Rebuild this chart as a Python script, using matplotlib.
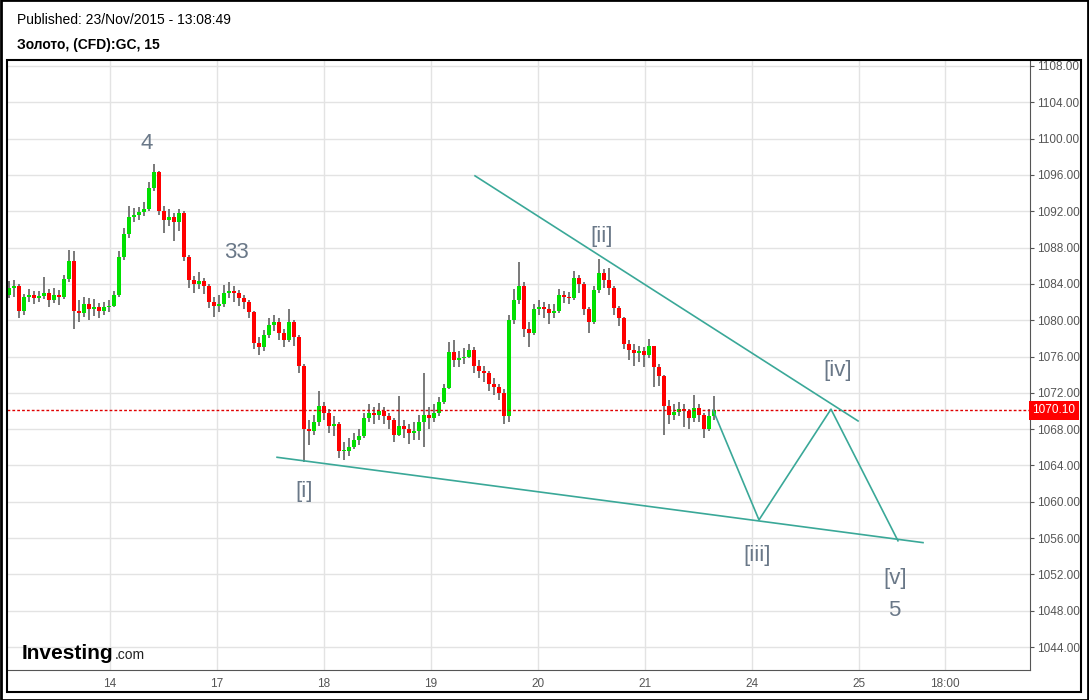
import numpy as np
import matplotlib
matplotlib.use("Agg")
import matplotlib.pyplot as plt
from matplotlib.patches import Rectangle
import matplotlib.transforms as mtransforms

# ---------------- data ----------------
closes = [1083.5, 1083.8, 1081.0, 1082.5, 1082.8, 1082.4, 1082.7, 1083.0, 1082.2, 1082.8,
          1082.6, 1084.5, 1086.5, 1081.0, 1080.8, 1081.8, 1081.2, 1081.5, 1081.0, 1081.4,
          1081.6, 1082.8, 1087.0, 1089.5, 1091.4, 1091.6, 1091.9, 1092.2, 1094.6, 1096.3,
          1092.0, 1091.0, 1091.4, 1090.8, 1091.8, 1087.0, 1084.4, 1084.0, 1084.3, 1083.8,
          1082.0, 1081.6, 1081.8, 1083.0, 1083.2, 1083.0, 1082.4, 1082.0, 1080.9, 1077.5,
          1077.0, 1078.4, 1079.5, 1079.8, 1078.6, 1077.8, 1079.8, 1078.2, 1075.0, 1068.0,
          1067.8, 1068.8, 1070.6, 1069.8, 1068.4, 1068.6, 1065.6, 1065.6, 1066.0, 1066.8,
          1067.2, 1069.2, 1069.8, 1069.6, 1070.0, 1069.4, 1069.0, 1067.4, 1068.4, 1068.0,
          1067.6, 1067.8, 1068.8, 1069.6, 1069.2, 1069.8, 1071.0, 1072.5, 1076.5, 1075.6,
          1075.8, 1076.0, 1076.7, 1075.0, 1074.4, 1074.2, 1073.0, 1072.6, 1072.0, 1069.5,
          1080.0, 1082.2, 1083.8, 1079.0, 1078.6, 1081.2, 1081.4, 1081.2, 1080.8, 1081.0,
          1082.8, 1082.6, 1082.4, 1084.6, 1084.0, 1081.2, 1079.8, 1083.3, 1085.2, 1084.4,
          1083.6, 1081.3, 1080.2, 1077.4, 1076.7, 1076.4, 1076.6, 1076.2, 1077.2, 1074.8,
          1073.8, 1070.6, 1069.6, 1069.9, 1070.2, 1070.0, 1069.2, 1070.3, 1069.6, 1068.0,
          1069.4, 1070.1]
highs = [1084.3, 1084.4, 1084.0, 1082.9, 1083.4, 1083.2, 1083.2, 1084.8, 1083.4, 1083.6,
         1083.3, 1085.0, 1087.7, 1087.6, 1082.2, 1082.6, 1082.4, 1082.3, 1081.9, 1082.0,
         1082.2, 1083.2, 1087.6, 1090.2, 1092.6, 1092.4, 1092.5, 1093.0, 1095.2, 1097.2,
         1096.4, 1092.6, 1092.2, 1091.8, 1092.3, 1092.0, 1087.2, 1084.9, 1085.3, 1084.6,
         1084.0, 1082.6, 1082.8, 1083.9, 1084.2, 1083.8, 1083.3, 1082.8, 1082.2, 1081.0,
         1078.2, 1078.9, 1080.2, 1080.6, 1080.2, 1079.0, 1081.2, 1080.0, 1078.4, 1075.2,
         1069.0, 1069.6, 1072.2, 1071.0, 1070.2, 1069.5, 1068.8, 1066.6, 1067.0, 1067.6,
         1068.0, 1069.8, 1070.8, 1070.4, 1070.9, 1070.4, 1069.8, 1069.2, 1071.6, 1069.0,
         1068.6, 1068.8, 1069.6, 1074.2, 1070.4, 1070.8, 1071.5, 1073.0, 1077.6, 1077.8,
         1076.6, 1076.9, 1077.4, 1077.0, 1075.6, 1075.0, 1074.4, 1073.6, 1073.0, 1072.4,
         1080.6, 1083.4, 1086.4, 1084.2, 1079.8, 1081.8, 1082.2, 1082.0, 1081.8, 1081.8,
         1083.4, 1083.2, 1083.1, 1085.4, 1085.0, 1084.2, 1081.4, 1083.8, 1086.7, 1085.6,
         1085.8, 1083.8, 1081.6, 1080.4, 1077.8, 1077.4, 1077.2, 1077.0, 1077.9, 1077.0,
         1075.2, 1074.0, 1071.2, 1070.8, 1071.0, 1070.8, 1070.2, 1071.8, 1070.8, 1069.8,
         1070.2, 1071.6]
lows = [1082.4, 1082.6, 1080.2, 1080.6, 1082.0, 1081.8, 1082.0, 1082.3, 1081.4, 1081.9,
        1081.7, 1082.3, 1084.2, 1079.0, 1079.8, 1080.4, 1080.0, 1080.5, 1080.2, 1080.6,
        1080.9, 1081.4, 1082.6, 1086.6, 1089.0, 1090.8, 1091.0, 1091.5, 1092.0, 1094.2,
        1091.6, 1089.6, 1090.4, 1088.7, 1089.8, 1086.5, 1083.5, 1083.0, 1083.4, 1082.9,
        1081.3, 1080.4, 1080.9, 1081.4, 1082.4, 1082.0, 1081.6, 1081.2, 1080.2, 1076.8,
        1076.2, 1076.6, 1078.0, 1078.8, 1077.8, 1077.0, 1077.6, 1077.2, 1074.2, 1064.4,
        1066.2, 1067.4, 1068.4, 1069.0, 1067.6, 1067.2, 1064.8, 1064.6, 1065.0, 1065.8,
        1066.2, 1067.0, 1068.8, 1068.6, 1069.0, 1068.6, 1068.0, 1066.6, 1067.2, 1067.0,
        1066.4, 1066.8, 1066.8, 1066.0, 1068.0, 1068.8, 1069.4, 1070.8, 1072.4, 1074.8,
        1074.8, 1075.2, 1075.8, 1074.2, 1073.6, 1073.2, 1072.2, 1071.8, 1071.2, 1068.6,
        1068.8, 1079.6, 1081.8, 1078.2, 1077.0, 1078.4, 1080.6, 1080.2, 1079.6, 1080.2,
        1080.8, 1081.9, 1081.8, 1082.2, 1083.0, 1080.6, 1078.6, 1079.6, 1083.0, 1083.6,
        1082.8, 1080.6, 1079.4, 1076.8, 1075.6, 1075.0, 1075.4, 1074.8, 1075.8, 1072.6,
        1072.8, 1067.4, 1068.6, 1069.0, 1069.4, 1068.2, 1068.0, 1068.8, 1068.8, 1067.0,
        1067.8, 1069.0]
first_open = 1082.8
last_price = 1070.10

day_labels = ["14", "17", "18", "19", "20", "21", "24", "25", "18:00"]
day_ticks = [0, 1, 2, 3, 4, 5, 6, 7, 7.80]

# wave labels: (text, x in days, price)
wave_labels = [("4", 0.346, 1099.5), ("33", 1.178, 1087.5), ("[i]", 1.813, 1061.1),
               ("[ii]", 4.598, 1089.2), ("[iii]", 6.047, 1054.1), ("[iv]", 6.804, 1074.5),
               ("[v]", 7.336, 1051.6), ("5", 7.327, 1048.0)]
upper_line_x = [3.411, 6.991]
upper_line_y = [1095.9, 1068.9]
lower_line_x = [1.561, 7.598]
lower_line_y = [1064.9, 1055.5]
path_x = [5.636, 6.065, 6.738, 7.364]
path_y = [1070.1, 1058.0, 1070.2, 1055.7]

# ---------------- layout ----------------
W, H = 1089, 700
fig = plt.figure(figsize=(W / 100, H / 100), dpi=100)
fig.patch.set_facecolor("white")

def fx(px):
    return px / W

def fy(py):
    return 1 - py / H

ax = fig.add_axes([fx(7), fy(670), fx(1030) - fx(7), fy(60) - fy(670)])
ax.set_xlim(-0.963, 8.598)
ax.set_ylim(1041.47, 1108.66)

CANDLES_PER_DAY = 21.4
x_start = -0.944
n = len(closes)
xs = x_start + np.arange(n) / CANDLES_PER_DAY
opens = [first_open] + closes[:-1]

# grid
yt = np.arange(1044, 1109, 4)
for v in yt:
    ax.axhline(v, color="#e3e3e3", lw=1, zorder=0)
for t in day_ticks:
    ax.axvline(t, color="#e3e3e3", lw=1, zorder=0)

# candles
ax.vlines(xs, lows, highs, color="#6e6e6e", lw=1.3, zorder=2)
bw = 0.7 / CANDLES_PER_DAY
for x, o, c in zip(xs, opens, closes):
    col = "#00e000" if c >= o else "#ff0000"
    h = max(abs(c - o), 0.15)
    ax.add_patch(Rectangle((x - bw / 2, min(o, c)), bw, h, facecolor=col,
                           edgecolor="none", zorder=3))

# last price line
ax.axhline(last_price, color="#e00000", lw=1, ls=(0, (2, 1.5)), zorder=4)
trans = mtransforms.blended_transform_factory(ax.transAxes, ax.transData)
ax.text(1.002, last_price, "%.2f" % last_price, transform=trans, ha="left", va="center",
        color="white", fontsize=8.5, family="Liberation Sans", zorder=6,
        bbox=dict(boxstyle="square,pad=0.3", facecolor="#ff0000", edgecolor="none"),
        clip_on=False)

# trend lines
tc = "#3aa898"
ax.plot(upper_line_x, upper_line_y, color=tc, lw=1.2, zorder=5)
ax.plot(lower_line_x, lower_line_y, color=tc, lw=1.2, zorder=5)
ax.plot(path_x, path_y, color=tc, lw=1.2, zorder=5)

for txt, x, y in wave_labels:
    ax.text(x, y, txt, color="#6a7888", fontsize=16, family="Liberation Sans",
            ha="center", va="center", zorder=6)

# axes styling
ax.set_facecolor("white")
for s in ["left", "top"]:
    ax.spines[s].set_visible(False)
ax.spines["right"].set_color("#555555")
ax.spines["bottom"].set_color("#555555")
ax.yaxis.tick_right()
ax.set_yticks(yt)
ax.set_yticklabels(["%.2f" % v for v in yt])
ax.tick_params(axis="y", length=3, width=0.8, color="#555555", labelsize=8.5,
               labelcolor="#555555", pad=2)
ax.set_xticks(day_ticks)
ax.set_xticklabels(day_labels)
ax.tick_params(axis="x", length=0, labelsize=8.5, labelcolor="#555555", pad=6)
for lab in ax.get_xticklabels() + ax.get_yticklabels():
    lab.set_family("Liberation Sans")

# boxes
fig.add_artist(Rectangle((fx(7), fy(692)), fx(1081) - fx(7), fy(60) - fy(692),
                         transform=fig.transFigure, fill=False, edgecolor="black", lw=1.5))
fig.add_artist(Rectangle((0.0005, 0.0007), 0.999, 0.9986, transform=fig.transFigure,
                         fill=False, edgecolor="black", lw=2))

# header texts
fig.text(fx(17), fy(20), "Published: 23/Nov/2015 - 13:08:49", fontsize=10,
         family="Liberation Sans", va="center", ha="left", color="black")
fig.text(fx(17), fy(45), "Золото, (CFD):GC, 15", fontsize=10, fontweight="bold",
         family="Liberation Sans", va="center", ha="left", color="black")

# logo
logo = fig.text(fx(22), fy(659), "Investing", fontsize=15, fontweight="bold",
                family="Liberation Sans", va="baseline", ha="left", color="black")
renderer = fig.canvas.get_renderer()
bb = logo.get_window_extent(renderer=renderer)
fig.text(bb.x1 / W + 0.001, fy(659), ".com", fontsize=10, family="Liberation Sans",
         va="baseline", ha="left", color="#222222")

fig.savefig("out.png", dpi=100)
